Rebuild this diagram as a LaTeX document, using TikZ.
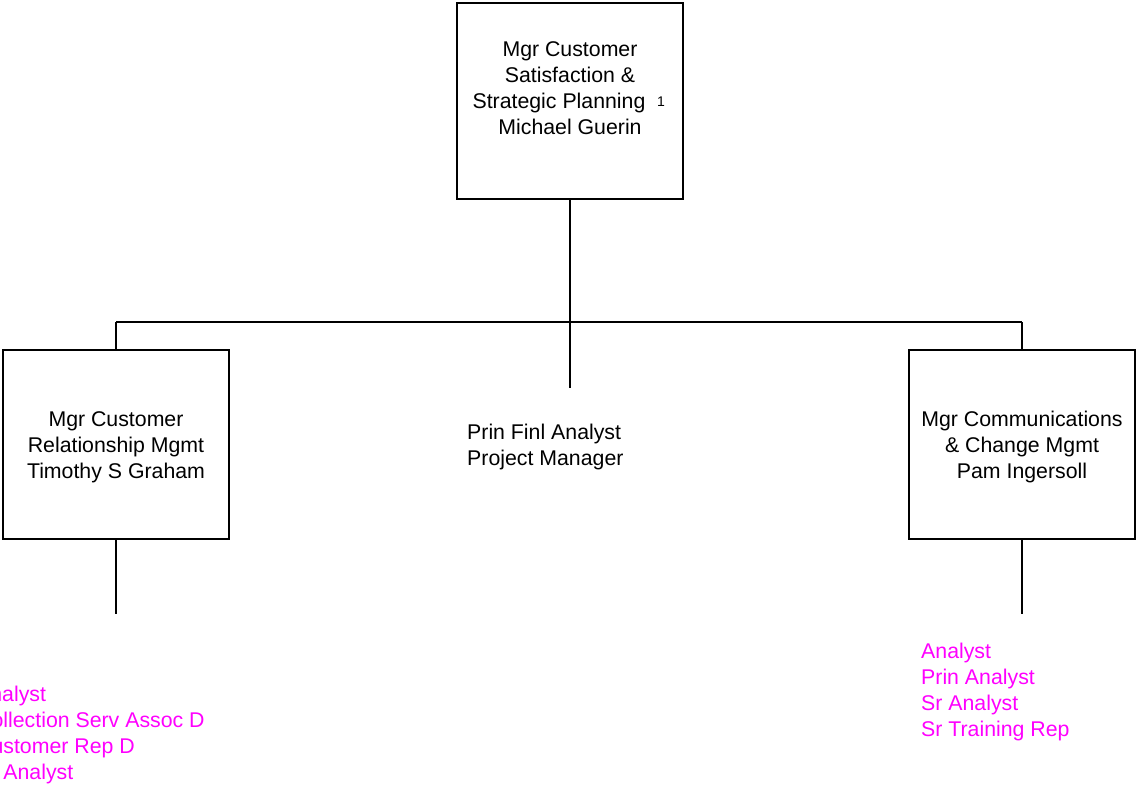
\documentclass[tikz,border=0pt]{standalone}
\usepackage{fontspec}
\setmainfont{Liberation Sans}
\definecolor{listmag}{RGB}{255,0,255}
\begin{document}
\begin{tikzpicture}[x=1pt,y=-1pt,
  box/.style={draw=black,line width=1.6pt,inner sep=0pt,fill=white},
  txt/.style={inner sep=0pt,align=center,font=\fontsize{21.3}{26}\selectfont},
  lst/.style={inner sep=0pt,align=left,anchor=west,text=listmag,font=\fontsize{21.3}{25.7}\selectfont},
  conn/.style={line width=1.6pt}]
\useasboundingbox (0,0) rectangle (1136,785);
\clip (0,0) rectangle (1136,785);
\fill[white] (0,0) rectangle (1136,785);
% boxes
\node[box,minimum width=226pt,minimum height=196pt] (top) at (570,101) {};
\node[box,minimum width=226pt,minimum height=189pt] (left) at (116,444.5) {};
\node[box,minimum width=226pt,minimum height=189pt] (right) at (1022,444.5) {};
% connectors
\coordinate (j) at (570,322);
\coordinate (mstub) at (570,388);
\coordinate (lstub) at (116,614);
\coordinate (rstub) at (1022,614);
\draw[conn] (top.south) -- (j) -- (mstub);
\draw[conn] (left.north |- j) -- (right.north |- j);
\draw[conn] (left.north |- j) -- (left.north);
\draw[conn] (right.north |- j) -- (right.north);
\draw[conn] (left.south) -- (lstub);
\draw[conn] (right.south) -- (rstub);
% texts
\node[txt] (toptxt) at (570,88) {Mgr Customer\\Satisfaction \&\\Strategic Planning\rule{22pt}{0pt}\\Michael Guerin};
\node[inner sep=0pt,font=\fontsize{14}{16}\selectfont] (topnum) at (661,102) {1};
\node[txt] (lefttxt) at (116,447) {Mgr Customer\\Relationship Mgmt\\Timothy S Graham};
\node[txt] (righttxt) at (1022,447) {Mgr Communications\\\& Change Mgmt\\Pam Ingersoll};
\node[txt,align=left,anchor=west] (midtxt) at (467,447) {Prin Finl Analyst\\Project Manager};
\node[lst] (rlist) at (921,692) {Analyst\\Prin Analyst\\Sr Analyst\\Sr Training Rep};
\node[lst] (llist) at (-24,735) {Analyst\\Collection Serv Assoc D\\Customer Rep D\\Sr Analyst};
\end{tikzpicture}
\end{document}
